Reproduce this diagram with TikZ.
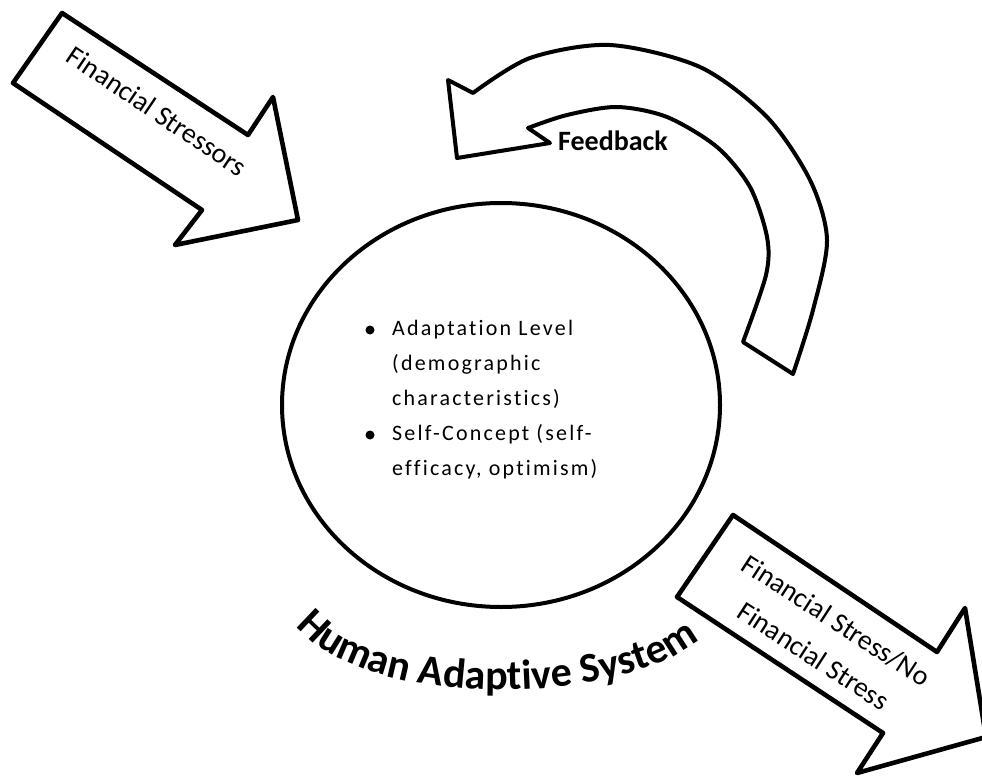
\documentclass[tikz,border=0pt]{standalone}
\usepackage{fontspec}
\setmainfont{Carlito}
\newfontfamily\listfont[LetterSpace=10, Ligatures=NoCommon]{Carlito}
\usetikzlibrary{shapes.geometric,decorations.text}

\tikzset{
  blockarrow/.style={draw=black, fill=white, line width=4.6pt, line join=round},
  bentarrow/.style={draw=black, fill=white, line width=4pt, line join=round},
  systemring/.style={draw=black, line width=4pt, ellipse, inner sep=0pt,
                     minimum width=438pt, minimum height=404pt},
  arrowlabel/.style={font=\fontsize{28}{42}\selectfont, align=center, inner sep=0pt},
  listline/.style={font=\listfont\fontsize{22}{35}\selectfont, anchor=base west, inner sep=0pt},
  listdot/.style={circle, fill=black, inner sep=0pt, minimum size=9pt},
}

\begin{document}
\begin{tikzpicture}[x=1pt, y=-1pt]
  \useasboundingbox (0,0) rectangle (982,776);
  \fill[white] (0,0) rectangle (982,776);
  \clip (0,0) rectangle (982,776);

  % incoming stressors arrow (upper left)
  \coordinate (inA) at (62,13);
  \coordinate (inB) at (248,135);
  \coordinate (inC) at (273,97);
  \coordinate (inD) at (298,220);
  \coordinate (inE) at (175,245);
  \coordinate (inF) at (202,210);
  \coordinate (inG) at (13,83);
  \draw[blockarrow] (inA) -- (inB) -- (inC) -- (inD) -- (inE) -- (inF) -- (inG) -- cycle;
  \node[arrowlabel, rotate=-34] (stressors) at (157,111) {Financial Stressors};

  % outcome arrow (lower right)
  \coordinate (outA) at (733,515);
  \coordinate (outB) at (937,652);
  \coordinate (outC) at (965,608);
  \coordinate (outD) at (986,737);
  \coordinate (outE) at (857,773);
  \coordinate (outF) at (883,733);
  \coordinate (outG) at (677,597);
  \draw[blockarrow] (outA) -- (outB) -- (outC) -- (outD) -- (outE) -- (outF) -- (outG) -- cycle;
  \node[arrowlabel, rotate=-33] (outcome) at (825,638) {Financial Stress/No\\Financial Stress};

  % curved feedback arrow
  \coordinate (fbNotchU) at (473,93);
  \coordinate (fbBarbU) at (448,80);
  \coordinate (fbTip) at (457,158);
  \coordinate (fbBarbL) at (550,143);
  \coordinate (fbNotchL) at (528,128);
  \coordinate (fbEndIn) at (743,342);
  \coordinate (fbEndOut) at (793,374);
  \draw[bentarrow] (fbNotchU) -- (fbBarbU) -- (fbTip) -- (fbBarbL) -- (fbNotchL)
    -- plot[smooth] coordinates {(528,128) (567,115) (617,107) (667,117) (717,147)
                                 (750,187) (767,237) (766,275) (743,342)}
    -- (fbEndOut)
    -- plot[smooth] coordinates {(793,374) (813,310) (827,240) (810,180) (767,117)
                                 (700,67) (610,45) (530,58) (473,93)}
    -- cycle;
  \node[font=\bfseries\fontsize{28}{34}\selectfont, inner sep=0pt] (feedback) at (613,141) {Feedback};

  % the adaptive system
  \node[systemring] (system) at (501,405) {};

  \node[listdot] (dot1) at (370,330) {};
  \node[listdot] (dot2) at (370,435) {};
  \node[listline] (line1) at (392,335) {Adaptation Level};
  \node[listline] (line2) at (392,370) {(demographic};
  \node[listline] (line3) at (392,405) {characteristics)};
  \node[listline] (line4) at (392,440) {Self-Concept (self-};
  \node[listline] (line5) at (392,475) {efficacy, optimism)};

  % arched caption under the ring
  \path[decorate, decoration={text along path, text align=center,
        text={|\bfseries\fontsize{42}{42}\selectfont|Human Adaptive System}}]
    (290,618) -- (298,628) .. controls (366,709) and (617,708) .. (698,640) -- (707,632);
\end{tikzpicture}
\end{document}
